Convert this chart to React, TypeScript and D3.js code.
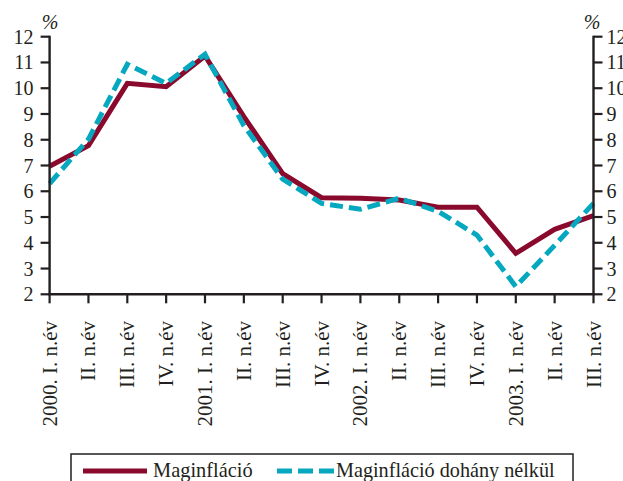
import React from "react";
import * as d3 from "d3";

const categories = [
  "2000. I. n.év", "II. n.év", "III. n.év", "IV. n.év",
  "2001. I. n.év", "II. n.év", "III. n.év", "IV. n.év",
  "2002. I. n.év", "II. n.év", "III. n.év", "IV. n.év",
  "2003. I. n.év", "II. n.év", "III. n.év",
];
const maginflacio = [6.97, 7.77, 10.19, 10.06, 11.25, 8.9, 6.68, 5.75, 5.73, 5.66, 5.38, 5.38, 3.59, 4.52, 5.05];
const dohanyNelkul = [6.3, 8.02, 10.93, 10.19, 11.32, 8.55, 6.47, 5.53, 5.3, 5.73, 5.22, 4.3, 2.3, 3.9, 5.53];
const yTicks = [2, 3, 4, 5, 6, 7, 8, 9, 10, 11, 12];
const seriesNames = ["Maginfláció", "Maginfláció dohány nélkül"];

const RED = "#8a0a2e";
const CYAN = "#06a8c0";
const AXIS = "#231f20";
const FONT = "Liberation Serif, Times New Roman, Times, serif";
const ts = { fontFamily: FONT };

export default function App() {
  const W = 623, H = 481;
  const x0 = 49.6, x1 = 593.5;
  const yTop = 36.7, yBot = 294.3;
  const x = d3.scalePoint<number>().domain(d3.range(categories.length)).range([x0, x1]);
  const y = d3.scaleLinear().domain([2, 12]).range([yBot, yTop]);
  const line = d3.line<number>().x((_, i) => x(i) as number).y((d) => y(d));

  return (
    <svg width={W} height={H} style={{ position: "absolute", left: 0, top: 0, background: "#fff" }}>
      <rect x={0} y={0} width={W} height={H} fill="#fff" />
      {/* series */}
      <path d={line(maginflacio) || ""} fill="none" stroke={RED} strokeWidth={5} strokeLinejoin="miter" />
      <path d={line(dohanyNelkul) || ""} fill="none" stroke={CYAN} strokeWidth={5} strokeDasharray="13 6" strokeLinejoin="miter" />

      {/* left axis */}
      <line x1={x0} x2={x0} y1={yTop - 1} y2={yBot} stroke={AXIS} strokeWidth={2.4} />
      {yTicks.map((t) => (
        <g key={"l" + t}>
          <line x1={x0 - 9} x2={x0} y1={y(t)} y2={y(t)} stroke={AXIS} strokeWidth={2.2} />
          <text x={x0 - 16} y={y(t) + 7} textAnchor="end" fontSize={20} fill={AXIS} style={ts}>{t}</text>
        </g>
      ))}
      {/* right axis */}
      <line x1={x1} x2={x1} y1={yTop - 1} y2={yBot} stroke={AXIS} strokeWidth={2.4} />
      {yTicks.map((t) => (
        <g key={"r" + t}>
          <line x1={x1} x2={x1 + 9} y1={y(t)} y2={y(t)} stroke={AXIS} strokeWidth={2.2} />
          <text x={x1 + 13} y={y(t) + 7} textAnchor="start" fontSize={20} fill={AXIS} style={ts}>{t}</text>
        </g>
      ))}
      <text x={50} y={29} fontSize={20} fontStyle="italic" textAnchor="middle" fill={AXIS} style={ts}>%</text>
      <text x={592} y={29} fontSize={20} fontStyle="italic" textAnchor="middle" fill={AXIS} style={ts}>%</text>

      {/* x axis */}
      <line x1={x0 - 1.2} x2={x1 + 1.2} y1={yBot} y2={yBot} stroke={AXIS} strokeWidth={2.4} />
      {categories.map((c, i) => (
        <g key={"x" + i}>
          <line x1={x(i) as number} x2={x(i) as number} y1={yBot} y2={yBot + 9} stroke={AXIS} strokeWidth={2.2} />
          <text
            transform={`translate(${(x(i) as number) + 7},${321}) rotate(-90)`}
            textAnchor="end"
            fontSize={21}
            fill={AXIS}
            style={ts}
          >
            {c}
          </text>
        </g>
      ))}

      {/* legend */}
      <rect x={71} y={454} width={502} height={40} fill="#fff" stroke={AXIS} strokeWidth={1.5} />
      <line x1={83} x2={147} y1={471} y2={471} stroke={RED} strokeWidth={5} />
      <text x={153} y={477} fontSize={20.4} fill={AXIS} style={ts}>{seriesNames[0]}</text>
      <line x1={277} x2={334} y1={471} y2={471} stroke={CYAN} strokeWidth={5} strokeDasharray="15 6" />
      <text x={336} y={477} fontSize={20.2} fill={AXIS} style={ts}>{seriesNames[1]}</text>
    </svg>
  );
}
